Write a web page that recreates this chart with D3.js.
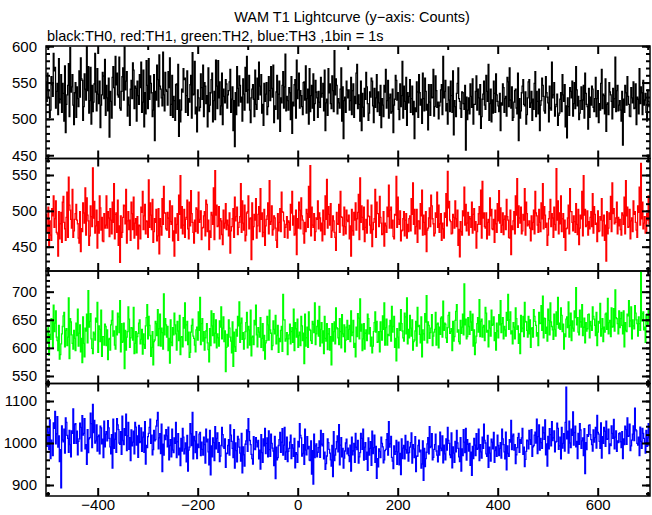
<!DOCTYPE html>
<html><head><meta charset="utf-8">
<script src="https://cdn.jsdelivr.net/npm/d3@7"></script>
<style>body{margin:0;background:#fff}svg{display:block}text{font-family:"Liberation Sans",Arial,Helvetica,sans-serif;fill:#000}</style>
</head><body><svg id="c" width="652" height="515"></svg>
<script>
const title = "WAM T1 Lightcurve (y\u2212axis: Counts)";
const subtitle = "black:TH0, red:TH1, green:TH2, blue:TH3 ,1bin = 1s";
const tStart = -504;
const binWidth = 1.51;
const xDomain = [-503.4, 704.6];
const xMajorTicks = [-400, -200, 0, 200, 400, 600];
const xMinorTicks = [-500, -300, -100, 100, 300, 500, 700];

const th0 = [
551,524,563,540,529,502,512,558,547,531,590,566,571,515,538,549,506,583,522,527,
561,509,549,535,497,573,481,520,533,546,576,503,598,537,544,561,519,492,536,550,
502,544,528,517,566,530,584,555,553,498,517,562,541,526,600,539,572,508,525,571,
493,546,510,523,548,590,537,511,569,534,521,552,488,519,533,564,559,528,582,505,
546,529,511,556,475,538,524,501,557,572,543,519,586,547,563,533,530,585,515,512,
538,558,570,526,599,540,552,565,504,530,519,491,541,553,528,577,567,514,545,542,
497,552,532,520,561,543,578,509,523,567,489,536,507,580,546,514,583,527,559,549,
536,503,512,561,470,538,526,574,554,517,588,545,541,529,518,592,533,511,564,540,
538,519,565,543,584,505,520,560,502,531,525,498,547,548,513,575,476,526,496,512,
541,537,569,554,556,509,532,566,505,528,523,547,560,501,591,533,534,579,507,516,
482,540,529,511,516,562,543,527,574,503,550,545,521,532,489,570,510,519,536,554,
563,496,525,538,499,581,545,514,580,529,551,506,518,563,492,541,531,522,554,548,
515,533,539,551,568,509,527,544,484,525,462,536,506,572,542,518,559,546,523,530,
497,555,534,512,571,538,586,522,540,560,512,495,529,541,547,527,503,567,520,513,
556,527,578,545,533,561,508,520,491,549,524,534,550,506,517,558,539,525,572,542,
530,574,495,518,513,537,560,500,534,552,483,529,522,546,565,515,544,589,511,531,
525,512,543,536,499,558,480,523,518,547,554,501,581,528,540,563,515,539,532,517,
506,550,551,526,573,508,528,541,493,569,510,532,546,515,562,498,521,553,537,529,
502,538,523,516,557,530,535,549,511,567,484,522,527,505,569,536,548,521,514,559,
539,510,594,533,555,546,507,528,522,515,541,570,497,544,473,525,530,509,552,540,
529,540,512,525,557,506,539,548,502,531,521,563,575,514,533,520,497,552,484,535,
516,503,542,527,564,544,521,498,508,537,530,556,552,518,495,542,516,529,561,510,
537,522,505,546,488,528,519,503,546,537,568,515,525,553,501,529,534,508,510,541,
481,519,527,560,553,526,536,513,499,548,517,532,579,501,545,524,513,557,491,536,
522,531,554,509,528,545,506,524,473,515,510,551,537,502,561,536,519,527,494,563,
528,511,556,538,512,520,485,547,523,505,547,529,530,568,504,517,559,539,516,523,
500,518,523,540,547,506,586,529,538,553,511,521,493,544,526,510,552,532,509,566,
478,525,517,503,535,549,570,528,524,514,502,537,536,521,513,546,457,530,499,512,
529,507,548,531,516,555,493,520,520,538,559,512,541,529,506,547,487,503,527,534,
552,519,513,560,538,524,575,498,521,541,496,526,508,552,535,509,562,533,524,518,
510,535,484,522,519,548,543,509,528,531,504,557,551,517,570,526,515,544,498,502,
523,539,541,515,507,563,470,528,501,511,536,545,554,520,518,537,493,506,529,551,
554,516,522,538,498,527,513,549,565,503,538,524,507,541,484,519,525,556,546,531,
511,508,558,536,530,522,496,545,515,512,578,529,533,550,504,517,520,534,491,505,
508,527,536,510,561,533,524,547,489,518,474,529,517,505,543,538,529,552,504,521,
550,514,572,540,518,531,499,508,525,544,513,526,546,501,563,535,520,517,486,542,
502,530,519,545,541,516,510,528,557,503,528,539,495,521,512,549,568,514,534,532,
507,555,483,520,522,506,550,537,533,524,500,542,516,528,585,510,539,546,511,519,
525,512,497,538,464,527,509,546,536,519,558,531,520,504,503,543,529,522,551,514,
515,548,492,530,527,507,569,521,544,536,506,553,519,526,535,509,497,540,524,517];

const th1 = [
495,471,478,505,452,486,466,459,503,493,521,477,489,514,470,468,437,499,461,482,
498,456,512,520,484,475,459,491,526,463,547,508,501,488,476,530,463,472,488,496,
509,487,482,462,455,499,443,475,471,511,497,483,532,466,518,494,486,452,465,507,
492,478,560,490,513,469,479,501,448,485,469,521,504,473,491,458,457,496,476,480,
521,476,499,490,464,503,487,468,512,484,538,461,495,497,470,515,452,479,428,493,
463,470,491,508,507,482,530,455,486,499,474,487,459,512,496,474,519,462,483,489,
466,492,447,480,479,461,505,498,527,474,493,509,468,486,485,463,543,477,511,494,
474,516,456,471,489,484,502,458,465,503,440,489,478,466,517,481,534,497,497,475,
473,498,490,463,514,485,481,507,458,472,437,490,469,481,496,459,522,495,549,476,
506,468,480,502,463,488,491,515,475,461,512,479,528,496,484,470,455,487,471,504,
502,469,526,484,488,500,460,476,477,493,499,465,515,509,471,487,446,472,463,498,
494,481,532,460,556,494,508,478,479,506,461,489,486,467,453,501,476,483,510,474,
487,480,465,497,441,472,478,489,503,463,519,486,492,505,467,477,484,492,538,470,
514,483,473,508,458,466,497,499,521,475,489,490,432,511,460,478,495,487,517,462,
479,495,506,471,531,488,497,464,470,502,452,479,488,493,511,468,542,481,485,507,
466,474,493,490,476,459,449,496,472,484,503,471,526,499,498,486,463,477,481,492,
462,486,484,473,509,497,527,480,493,466,468,501,439,489,476,512,501,475,518,493,
487,468,455,484,471,502,496,477,534,491,563,465,505,480,477,496,459,471,490,488,
514,475,497,490,472,483,458,501,486,467,521,488,544,476,506,495,480,510,463,472,
493,486,470,463,445,498,482,481,509,470,527,492,491,479,466,505,478,468,501,487,
485,494,461,479,437,502,472,466,498,487,511,473,489,498,523,460,546,484,507,491,
474,505,457,477,488,469,515,493,492,480,469,508,450,474,484,489,530,463,512,496,
496,478,520,491,483,467,468,499,451,483,479,470,505,492,536,476,501,505,476,487,
464,461,495,494,548,477,519,488,481,500,458,472,473,489,499,465,487,496,462,481,
471,489,493,472,517,495,539,481,502,468,478,502,456,486,486,475,510,493,529,466,
494,484,467,499,443,473,476,490,504,478,522,507,489,482,465,469,497,491,526,477,
508,470,482,496,459,483,475,462,497,491,524,479,555,504,513,487,485,468,469,495,
491,476,514,489,478,501,452,474,436,485,471,466,500,493,533,480,509,472,483,498,
466,492,489,477,512,469,495,503,473,485,448,471,481,496,506,481,529,462,541,490,
497,478,476,497,461,484,488,466,518,493,502,475,474,488,456,501,482,470,510,486,
528,483,504,470,480,497,467,488,493,474,516,492,487,463,462,501,439,479,474,486,
499,468,521,494,545,477,507,490,483,505,468,472,495,487,531,466,512,496,479,481,
486,476,458,493,474,484,501,468,527,497,493,480,470,502,484,471,511,489,538,475,
506,494,477,483,452,466,489,499,516,478,496,490,463,505,481,473,559,487,514,468,
497,482,521,471,489,496,463,487,445,475,476,490,508,468,531,499,499,484,472,493,
485,470,510,481,467,502,453,476,494,489,527,465,549,494,502,478,480,500,466,485,
475,491,499,478,524,469,506,495,481,483,457,500,471,472,492,487,517,465,486,494,
459,480,430,499,468,476,497,488,520,471,539,496,503,482,484,490,512,468,491,479,
488,474,466,497,494,481,519,468,542,493,505,477,478,502,461,486,490,471,514,495,
499,484,473,463,507,498,533,480,566,489,512,475,483,492,469,470,496,487,521,482];

const th2 = [
633,611,610,637,587,624,615,652,649,600,676,629,644,666,619,613,595,640,580,588,
607,625,638,657,663,602,631,634,604,619,689,581,652,646,623,608,598,631,617,595,
644,622,669,603,626,641,593,617,574,655,608,584,635,630,660,609,702,637,647,661,
616,599,590,628,625,614,653,646,681,592,639,633,611,667,585,620,620,605,642,638,
604,632,579,615,617,596,641,649,666,621,630,605,598,638,623,662,655,627,684,593,
643,610,612,644,563,631,596,619,629,673,651,601,618,636,635,614,672,590,608,629,
591,620,626,644,650,607,615,633,589,625,606,599,639,654,677,616,656,640,622,585,
601,629,570,611,614,647,643,622,668,604,634,660,603,635,627,598,696,623,652,641,
619,638,595,617,573,650,610,604,636,623,662,641,625,596,647,630,613,658,588,619,
620,602,654,635,680,613,641,647,606,628,583,592,628,640,651,621,617,605,593,632,
637,614,664,631,690,606,643,652,612,629,596,618,630,643,609,597,575,634,604,666,
639,622,661,609,626,650,600,625,618,603,648,637,673,616,635,655,611,630,558,601,
624,603,650,635,619,612,591,646,567,628,602,594,633,621,656,639,682,610,644,653,
615,627,598,616,629,645,663,600,638,632,605,667,586,619,621,606,649,641,676,623,
602,636,628,619,654,601,617,643,595,622,580,609,613,656,641,614,667,632,626,597,
604,648,633,625,658,607,622,640,592,617,611,631,638,594,695,650,650,612,616,627,
588,616,623,642,607,629,636,610,669,595,645,634,619,651,601,622,628,604,656,639,
613,626,572,660,603,618,637,601,664,633,631,613,608,647,642,627,680,606,625,638,
649,621,674,603,633,645,609,630,590,656,617,612,643,597,625,634,596,620,570,643,
612,629,646,607,671,636,634,618,606,652,629,600,659,625,620,641,593,614,637,649,
615,633,640,611,666,622,628,649,601,608,584,637,620,661,653,616,687,630,642,595,
616,643,598,626,632,613,660,652,625,636,603,619,591,603,629,645,664,628,647,610,
611,629,593,646,629,614,657,633,680,605,636,651,605,624,622,639,649,612,674,628,
638,656,601,617,577,634,619,600,644,631,668,643,630,618,612,662,655,625,689,607,
633,618,658,635,621,650,596,611,614,630,647,603,672,638,640,624,609,655,584,632,
625,614,661,646,693,609,646,640,617,627,635,659,604,621,628,633,663,605,642,644,
600,637,624,653,655,619,683,631,644,642,618,610,636,658,663,626,629,634,595,647,
612,620,649,665,677,628,632,611,607,649,626,637,660,623,714,641,651,616,620,654,
638,624,665,646,631,660,603,632,588,609,621,643,654,628,686,620,647,651,619,637,
640,613,672,662,628,631,602,648,635,621,667,640,642,655,613,627,596,644,630,618,
659,641,684,627,643,654,616,638,632,621,663,649,695,633,650,664,625,630,607,645,
637,616,671,652,633,639,608,625,590,658,629,635,656,620,681,647,646,631,619,656,
625,650,601,634,636,619,668,656,647,640,621,627,604,663,643,644,675,631,692,618,
653,652,626,637,612,669,649,623,680,646,638,632,615,660,633,621,664,642,690,635,
644,633,671,658,629,642,598,625,620,651,655,636,682,619,640,662,613,648,635,630,
666,654,707,641,654,628,623,667,646,637,677,622,637,653,609,645,630,634,659,660,
618,647,639,631,673,656,651,640,622,663,604,628,647,644,679,621,634,652,611,637,
628,660,662,633,688,625,645,649,620,671,637,638,670,630,703,654,652,643,625,666,
636,652,663,640,625,666,602,645,631,629,660,657,684,638,648,673,616,650,639,634,
675,662,650,643,621,655,643,631,735,648,661,664,632,637,610,659,647,642,669,653];

const th3 = [
1016,992,1039,1026,984,1055,963,1007,1001,970,1048,1035,1075,998,1022,1063,990,1017,956,984,
893,1041,1007,1003,1033,976,1060,1049,1018,1011,978,1030,996,967,1029,1023,1081,999,1044,1046,
999,1028,972,1004,1010,1047,1037,981,1065,1019,1023,1058,986,996,949,1032,977,1010,1013,1071,
1046,989,1092,1025,1054,1000,1005,1043,981,1015,1019,974,1040,1036,998,1009,965,1052,991,1021,
1027,1005,1053,1036,1011,991,974,1020,940,1057,987,1009,1024,978,1058,1043,1032,1000,997,1027,
973,1064,1006,996,1034,1018,1069,982,1017,1049,985,1013,958,1031,993,1002,1028,974,1049,1038,
995,1017,966,1042,1001,1003,1036,980,1014,1026,978,1051,950,994,989,1015,1023,1037,1057,999,
1019,972,984,1030,1005,1008,1040,1054,1073,986,1012,1022,975,1045,932,997,971,1019,1008,1032,
1017,991,1038,960,994,1008,967,1033,983,977,1012,999,1049,965,1003,1022,972,988,946,1011,
981,1035,1014,974,986,1000,955,1018,933,983,990,1046,1022,994,1073,962,1016,1005,977,1027,
963,997,989,1021,1025,970,1002,985,971,1014,996,952,1033,1003,1009,979,948,1030,924,993,
967,1012,1001,958,1039,986,1011,1024,978,1001,956,969,994,1037,1020,991,987,1010,942,976,
975,994,1008,971,1043,1019,1004,987,965,1032,940,1000,982,955,1016,1009,990,976,957,1023,
929,991,972,945,997,1005,1031,980,1058,1027,1006,996,973,963,950,1015,986,984,1013,1002,
991,1006,962,983,938,1020,977,954,1010,993,1035,975,999,1012,967,1029,984,968,1021,999,
988,981,946,1016,915,990,960,965,994,1008,1025,978,1002,1034,971,995,1037,961,979,1014,
956,980,987,1002,1019,963,996,988,968,1011,941,977,973,954,1004,991,1046,1018,1012,969,
975,996,949,1033,983,972,1015,986,992,959,958,1005,926,982,902,1021,965,993,998,967,
978,989,1005,966,1030,997,993,1022,962,978,937,951,969,1010,1001,985,976,960,945,994,
920,1027,958,971,986,1003,1017,979,1044,948,995,1013,967,987,940,964,981,1000,1009,974,
988,970,956,995,933,1014,972,981,999,954,1023,990,984,1006,952,967,977,1023,1011,985,
1033,959,990,1001,961,978,935,1012,971,987,1003,947,1028,975,989,1019,954,992,916,963,
943,986,980,965,1014,999,991,953,960,982,985,1008,1022,971,1051,990,998,1016,966,957,
939,993,973,980,1006,949,979,1002,948,975,925,1010,963,988,994,962,1018,984,976,1004,
957,977,990,1001,1024,952,996,986,965,1015,932,968,969,994,1007,979,983,940,950,1005,
911,987,944,963,978,998,1013,974,1039,989,992,1022,960,966,985,996,1021,981,971,955,
993,971,1026,988,982,1017,953,995,974,960,1010,983,1037,1006,999,972,965,1024,941,991,
976,954,1004,979,1030,1000,987,967,956,1013,933,986,970,1032,1002,977,1035,959,1008,997,
981,999,947,978,923,992,963,1011,995,970,1022,985,988,1033,958,996,979,964,1014,987,
1045,1006,1000,974,968,1018,942,990,976,957,1009,1002,986,1025,954,982,991,968,1019,994,
970,987,1001,964,1033,1010,996,979,962,1026,936,993,975,968,1008,1002,1054,984,1017,1021,
983,996,951,972,989,1013,1023,978,1008,999,1012,1035,973,990,944,961,980,1007,1005,986,
1030,1008,997,1032,968,991,994,1019,1026,1000,1057,975,1015,1043,983,1011,1001,987,1038,1024,
1009,1055,972,998,945,1016,986,1034,1020,993,1051,1006,1012,1029,979,1002,1004,1047,1035,985,
993,1014,962,1037,988,999,1022,981,1049,1133,1010,1028,976,1052,1000,989,1033,1018,1074,995,
1025,1040,991,1004,963,1023,997,1046,1031,987,1005,1012,970,1034,927,1001,984,1020,1016,1042,
1043,1020,1008,996,981,1031,1002,1013,1037,988,1066,1025,1021,1004,987,1048,964,1015,999,1037,
1028,992,1052,1009,1010,1033,975,998,994,1041,1023,1011,1056,986,1014,1029,980,1005,1001,1022,
1024,1003,989,1027,963,1010,996,1040,1032,997,1060,1016,1017,1045,982,993,1007,1021,1041,1006,
1083,1032,1029,999,995,1014,970,1038,1004,987,1035,1023,1011,1001,976,1030,992,1012,1046,994];

const panelDomains = [[445.5, 600.3], [416.1, 573.0], [536.6, 736.8], [873.8, 1141.7]];
const yMajorTicks = [[450, 500, 550, 600], [450, 500, 550], [550, 600, 650, 700], [900, 1000, 1100]];
const yMinorStep = [10, 10, 10, 20];
const seriesList = [th0, th1, th2, th3];
const colors = ["#000000", "#ff0000", "#00ff00", "#0000ff"];

const svg = d3.select("#c");
const L = 46, R = 650, top0 = 46, ph = 112.5;
const x = d3.scaleLinear().domain(xDomain).range([L, R]);

svg.append("text").attr("x", 352).attr("y", 22).attr("text-anchor", "middle")
  .style("font-size", "14.5px").text(title);
svg.append("text").attr("x", 47).attr("y", 41)
  .style("font-size", "14.5px").text(subtitle);

const defs = svg.append("defs");

seriesList.forEach((vals, i) => {
  const y0 = top0 + i * ph, y1 = y0 + ph;
  const y = d3.scaleLinear().domain(panelDomains[i]).range([y1, y0]);
  defs.append("clipPath").attr("id", "clip" + i).append("rect")
    .attr("x", L).attr("y", y0).attr("width", R - L).attr("height", ph);
  const pts = vals.map((v, k) => [tStart + k * binWidth, v]);
  pts.push([tStart + vals.length * binWidth, vals[vals.length - 1]]);
  const line = d3.line().x(d => x(d[0])).y(d => y(d[1])).curve(d3.curveStepAfter);
  svg.append("path").attr("clip-path", "url(#clip" + i + ")").attr("d", line(pts))
    .attr("fill", "none").attr("stroke", colors[i]).attr("stroke-width", 1.3)
    .attr("stroke-linejoin", "miter");

  const g = svg.append("g");
  const d = panelDomains[i];
  const minors = d3.range(Math.ceil(d[0] / yMinorStep[i]) * yMinorStep[i], d[1], yMinorStep[i]);
  g.append("g").attr("transform", `translate(${L},0)`).call(d3.axisRight(y).tickValues(minors).tickSize(4).tickFormat(""));
  g.append("g").attr("transform", `translate(${R},0)`).call(d3.axisLeft(y).tickValues(minors).tickSize(4).tickFormat(""));
  g.append("g").attr("transform", `translate(${L},0)`).call(d3.axisRight(y).tickValues(yMajorTicks[i]).tickSize(8).tickFormat(""));
  g.append("g").attr("transform", `translate(${R},0)`).call(d3.axisLeft(y).tickValues(yMajorTicks[i]).tickSize(8).tickFormat(""));
  g.append("g").attr("transform", `translate(${L},0)`).call(d3.axisLeft(y).tickValues(yMajorTicks[i]).tickSize(0).tickPadding(9).tickFormat(d3.format("d")))
    .call(a => a.select(".domain").remove());
  g.append("g").attr("transform", `translate(0,${y1})`).call(d3.axisTop(x).tickValues(xMinorTicks).tickSize(4).tickFormat(""));
  g.append("g").attr("transform", `translate(0,${y1})`).call(d3.axisTop(x).tickValues(xMajorTicks).tickSize(8).tickFormat(""));
  g.append("g").attr("transform", `translate(0,${y0})`).call(d3.axisBottom(x).tickValues(xMinorTicks).tickSize(4).tickFormat(""));
  g.append("g").attr("transform", `translate(0,${y0})`).call(d3.axisBottom(x).tickValues(xMajorTicks).tickSize(8).tickFormat(""));
  g.append("rect").attr("x", L).attr("y", y0).attr("width", R - L).attr("height", ph)
    .attr("fill", "none").attr("stroke", "#000").attr("stroke-width", 1.5);
  g.selectAll(".tick line").attr("stroke", "#000").attr("stroke-width", 2);
  g.selectAll(".domain").attr("stroke", "none");
  g.selectAll("text").style("font-size", "15px").attr("fill", "#000").style("font-family", "'Liberation Sans',Arial,sans-serif");
});

const bottom = top0 + 4 * ph;
svg.append("g").attr("transform", `translate(0,${bottom})`)
  .call(d3.axisBottom(x).tickValues(xMajorTicks).tickSize(0).tickPadding(3)
    .tickFormat(v => (v < 0 ? "\u2212" + Math.abs(v) : String(v))))
  .call(a => a.select(".domain").remove())
  .selectAll("text").style("font-size", "15px").style("font-family", "'Liberation Sans',Arial,sans-serif");
</script></body></html>
